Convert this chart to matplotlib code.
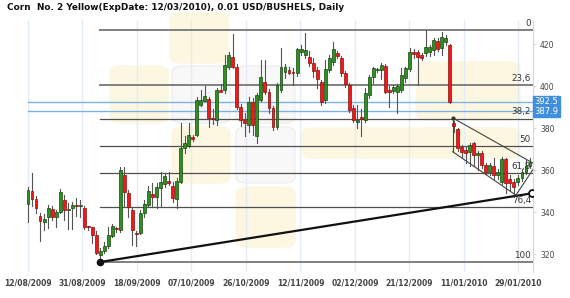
import matplotlib
matplotlib.use("Agg")
import matplotlib.pyplot as plt
import matplotlib.transforms as mtransforms
from matplotlib.patches import FancyBboxPatch

# daily candles (USD cents / bushel)
open_ = [343.8, 350.0, 346.2, 338.2, 335.4, 337.8, 341.4, 337.8, 340.2, 345.7,
         341.0, 341.7, 343.3, 342.7, 341.8, 333.0, 332.7, 329.0, 319.5, 321.6,
         323.8, 328.6, 332.2, 331.4, 357.6, 348.9, 340.9, 330.0, 329.9, 339.4,
         343.3, 348.6, 347.0, 351.5, 353.3, 354.8, 352.4, 346.0, 354.4, 370.3,
         371.4, 375.5, 376.7, 391.0, 393.0, 393.8, 384.6, 383.8, 398.1, 398.1,
         409.2, 414.0, 409.2, 390.2, 383.8, 381.4, 392.5, 376.0, 393.3, 402.1,
         397.3, 389.4, 380.3, 398.1, 406.8, 407.6, 406.3, 406.0, 416.3, 415.0,
         414.0, 411.0, 407.6, 402.1, 393.3, 407.6, 411.6, 415.6, 413.2, 406.3,
         400.5, 389.4, 383.0, 385.4, 383.8, 395.7, 404.1, 407.6, 407.6, 409.5,
         398.1, 397.8, 397.0, 398.1, 403.7, 408.0, 416.3, 416.3, 414.8, 415.6,
         416.3, 417.1, 421.6, 417.9, 421.1, 419.5, 382.5, 379.4, 371.1, 369.5,
         368.7, 372.7, 367.1, 368.0, 362.4, 359.2, 361.9, 357.6, 354.4, 365.1,
         355.6, 354.4, 354.4, 356.0, 359.2, 361.9]
high = [352.1, 358.7, 347.8, 339.7, 339.0, 343.3, 343.0, 341.0, 350.8, 348.0,
        344.5, 345.0, 346.7, 345.7, 343.0, 333.5, 333.0, 331.0, 323.0, 325.5,
        333.0, 334.5, 333.0, 361.6, 361.6, 350.5, 341.8, 331.0, 341.0, 345.7,
        352.5, 354.0, 353.7, 359.2, 358.0, 359.0, 354.5, 356.0, 382.2, 376.0,
        382.2, 376.5, 394.8, 398.1, 400.0, 394.9, 389.0, 398.9, 401.0, 414.8,
        416.0, 424.6, 410.5, 391.5, 387.0, 395.0, 394.1, 396.5, 412.4, 412.4,
        398.5, 390.5, 401.5, 418.0, 410.5, 409.0, 408.4, 418.0, 419.5, 425.1,
        416.5, 413.5, 409.0, 402.9, 412.4, 415.0, 421.0, 416.5, 414.5, 407.0,
        401.5, 391.0, 391.0, 389.0, 399.0, 405.2, 409.0, 408.4, 411.0, 410.5,
        400.0, 400.5, 401.0, 408.4, 409.0, 418.0, 417.5, 417.0, 415.5, 426.7,
        419.5, 423.0, 423.0, 425.7, 424.5, 420.0, 383.5, 380.0, 372.0, 371.0,
        373.0, 373.5, 369.0, 369.0, 363.5, 363.5, 365.5, 360.5, 366.0, 365.5,
        357.5, 355.5, 357.5, 360.5, 364.8, 365.5]
low = [335.4, 343.0, 339.5, 326.3, 331.5, 332.2, 336.0, 333.0, 339.7, 336.2,
       332.0, 332.0, 338.0, 337.8, 331.8, 331.5, 325.4, 320.0, 316.2, 320.5,
       322.7, 328.0, 330.5, 330.6, 342.5, 337.8, 324.3, 324.0, 329.5, 337.8,
       342.5, 342.5, 341.8, 342.5, 352.0, 353.0, 345.0, 341.8, 353.7, 368.0,
       371.0, 374.0, 376.0, 390.5, 392.8, 380.6, 382.0, 381.4, 397.0, 396.5,
       408.0, 408.4, 389.0, 381.0, 376.0, 378.0, 376.7, 372.7, 393.0, 396.0,
       387.0, 379.0, 379.5, 397.3, 404.0, 405.5, 400.5, 405.0, 415.0, 413.5,
       409.5, 404.5, 399.0, 391.0, 392.0, 406.5, 410.0, 413.5, 405.0, 399.5,
       387.5, 383.0, 380.0, 376.0, 383.0, 394.5, 401.5, 406.8, 403.5, 396.5,
       390.0, 396.5, 387.0, 397.0, 402.0, 407.0, 413.5, 400.5, 412.5, 414.5,
       414.5, 415.0, 416.5, 415.0, 419.5, 392.0, 378.0, 369.0, 366.0, 363.2,
       362.0, 362.0, 360.0, 361.0, 358.0, 357.8, 355.7, 355.7, 353.5, 348.9,
       350.5, 347.2, 353.0, 355.0, 358.0, 361.0]
close = [350.5, 346.2, 341.7, 335.9, 336.7, 341.8, 337.8, 340.0, 349.7, 341.0,
         341.3, 343.3, 343.0, 343.4, 333.0, 332.7, 329.0, 320.3, 321.4, 323.8,
         329.0, 333.3, 331.8, 360.0, 349.7, 342.5, 331.4, 329.5, 339.4, 343.8,
         350.2, 347.3, 351.8, 354.4, 357.1, 353.7, 346.8, 354.6, 370.5, 372.7,
         376.7, 374.9, 393.3, 393.3, 395.2, 384.6, 384.1, 398.1, 397.3, 410.0,
         414.8, 409.2, 390.2, 383.8, 382.2, 392.5, 381.4, 395.7, 404.4, 397.3,
         389.4, 380.3, 400.5, 409.2, 409.2, 406.3, 406.0, 417.5, 417.5, 417.0,
         410.8, 407.3, 403.2, 392.5, 408.0, 413.2, 417.5, 414.3, 406.0, 401.0,
         388.6, 383.8, 384.0, 384.1, 396.5, 404.4, 408.4, 407.6, 410.0, 397.3,
         397.3, 399.7, 400.0, 405.2, 408.4, 416.0, 415.2, 414.0, 413.2, 418.7,
         418.7, 421.9, 417.5, 423.5, 422.7, 392.5, 381.0, 370.3, 368.7, 368.2,
         371.9, 367.1, 368.2, 362.4, 359.2, 362.4, 357.6, 359.2, 365.1, 353.7,
         353.7, 352.1, 356.0, 359.2, 361.9, 364.0]

tick_labels = ["12/08/2009", "31/08/2009", "18/09/2009", "07/10/2009", "26/10/2009",
               "12/11/2009", "02/12/2009", "21/12/2009", "11/01/2010", "29/01/2010"]
tick_step = 13.57

# fibonacci retracement drawn from the september low to the january high
fib_start = 18
fib_low = 316.2
fib_high = 426.7
fib_ratios = [0, 23.6, 38.2, 50, 61.8, 76.4, 100]
fib_names = ["0", "23,6", "38,2", "50", "61,8", "76,4", "100"]

# horizontal price markers (blue)
marker_prices = [392.5, 387.9]

# support trendline
trend_x = [18, 125.5]
trend_y = [316.2, 348.9]

# falling channel
chan_upper_x = [105.75, 126.2]
chan_upper_y = [384.8, 362.8]
chan_lower_x = [105.75, 121.5]
chan_lower_y = [368.7, 348.0]
chan_rise_x = [121.5, 126.2]
chan_rise_y = [348.0, 361.6]

W, H = 570, 298
fig = plt.figure(figsize=(W / 100, H / 100), dpi=100)
fig.patch.set_facecolor("white")


def fig_box(x0, y0, x1, y1):
    return x0 / W, 1 - y1 / H, (x1 - x0) / W, (y1 - y0) / H


# faint logo watermark behind the chart
wm_yellow = [(170, 13, 229, 63), (110, 66, 168, 123), (172, 127, 230, 183),
             (236, 187, 295, 247), (417, 62, 520, 120), (302, 128, 520, 158)]
wm_grey = [(172, 66, 230, 123), (236, 66, 295, 123), (236, 127, 295, 183)]
for boxes, fc, ec in [(wm_yellow, "#fdf7e2", "#fdf7e2"), (wm_grey, "#f8f8f8", "#eeeeee")]:
    for b in boxes:
        x, y, w, h = fig_box(*b)
        fig.patches.append(FancyBboxPatch((x, y), w, h, boxstyle="round,pad=0,rounding_size=0.02",
                                          transform=fig.transFigure, facecolor=fc,
                                          edgecolor=ec, lw=1, zorder=-1))

ax = fig.add_axes([0, 26 / H, 533 / W, 252 / H])
ax.set_facecolor("none")
n = len(close)
ax.set_xlim(-6.97, 125.75)
ax.set_ylim(311.43, 431.43)

# vertical grid at date ticks
ticks = [k * tick_step for k in range(len(tick_labels))]
for t in ticks:
    ax.axvline(t, color="#e3ecf6", lw=1, zorder=0)

# blue markers
for p in marker_prices:
    ax.plot([0, 125.75], [p, p], color="#7fb2e0", lw=1, zorder=1)

# fib levels
for r, name in zip(fib_ratios, fib_names):
    lvl = fib_high - r / 100 * (fib_high - fib_low)
    thick = r in (0, 23.6, 100)
    ax.plot([fib_start, 125.75], [lvl, lvl], color="#808080" if thick else "#505050",
            lw=1.4 if thick else 0.9, zorder=1)
    ax.annotate(name, (125.25, lvl), xytext=(0, 1.5), textcoords="offset points",
                ha="right", va="bottom", fontsize=6.3, color="#333333", zorder=5)

# candles
for i in range(n):
    up = close[i] >= open_[i]
    ax.plot([i, i], [low[i], high[i]], color="#555555", lw=0.8, zorder=2)
    bottom = min(open_[i], close[i])
    height = max(abs(close[i] - open_[i]), 0.5)
    ax.bar(i, height, bottom=bottom, width=0.72,
           color="#2f8f23" if up else "#f01818",
           edgecolor="#16470f" if up else "#8e0d0d", lw=0.5, zorder=3)

# trendline
ax.plot(trend_x, trend_y, color="#111111", lw=1.6, zorder=4)
ax.plot(trend_x[0], trend_y[0], "o", color="#111111", ms=4.5, zorder=5)
ax.plot(trend_x[1], trend_y[1], "o", mfc="white", mec="#111111", mew=1.3, ms=5, zorder=5)

# channel
ax.plot(chan_upper_x, chan_upper_y, color="#444444", lw=0.8, zorder=4)
ax.plot(chan_lower_x, chan_lower_y, color="#444444", lw=0.8, zorder=4)
ax.plot(chan_rise_x, chan_rise_y, color="#444444", lw=0.8, zorder=4)
ax.plot([chan_upper_x[0], chan_lower_x[0]], [chan_upper_y[0], chan_lower_y[0]],
        color="#444444", lw=0.8, zorder=4)
ax.plot(chan_upper_x[0], chan_upper_y[0], "o", color="#333333", ms=2, zorder=5)

# axes
for s in ["left", "top", "bottom"]:
    ax.spines[s].set_visible(False)
ax.spines["right"].set_color("#cdd8e3")
ax.yaxis.tick_right()
ax.set_yticks([320, 340, 360, 380, 400, 420])
ax.tick_params(axis="y", length=2, color="#cdd8e3", labelsize=5.5, labelcolor="#444444", pad=3)
ax.set_xticks(ticks)
ax.set_xticklabels(tick_labels, fontsize=5.5, color="#444444", fontweight="bold")
ax.tick_params(axis="x", length=0, pad=5)

# price label boxes on the right axis
blend = mtransforms.blended_transform_factory(ax.transAxes, ax.transData)
for p in marker_prices:
    ax.text(1.003, p, f"{p:.1f}", transform=blend, ha="left", va="center", fontsize=6,
            color="white", clip_on=False,
            bbox=dict(boxstyle="square,pad=0.15", fc="#3f8fdc", ec="#3f8fdc"))

fig.text(7 / W, 1 - 8 / H, "Corn  No. 2 Yellow(ExpDate: 12/03/2010), 0.01 USD/BUSHELS, Daily",
         ha="left", va="center", fontsize=6.4, fontweight="bold", color="#111111")

fig.savefig("out.png", dpi=100)
